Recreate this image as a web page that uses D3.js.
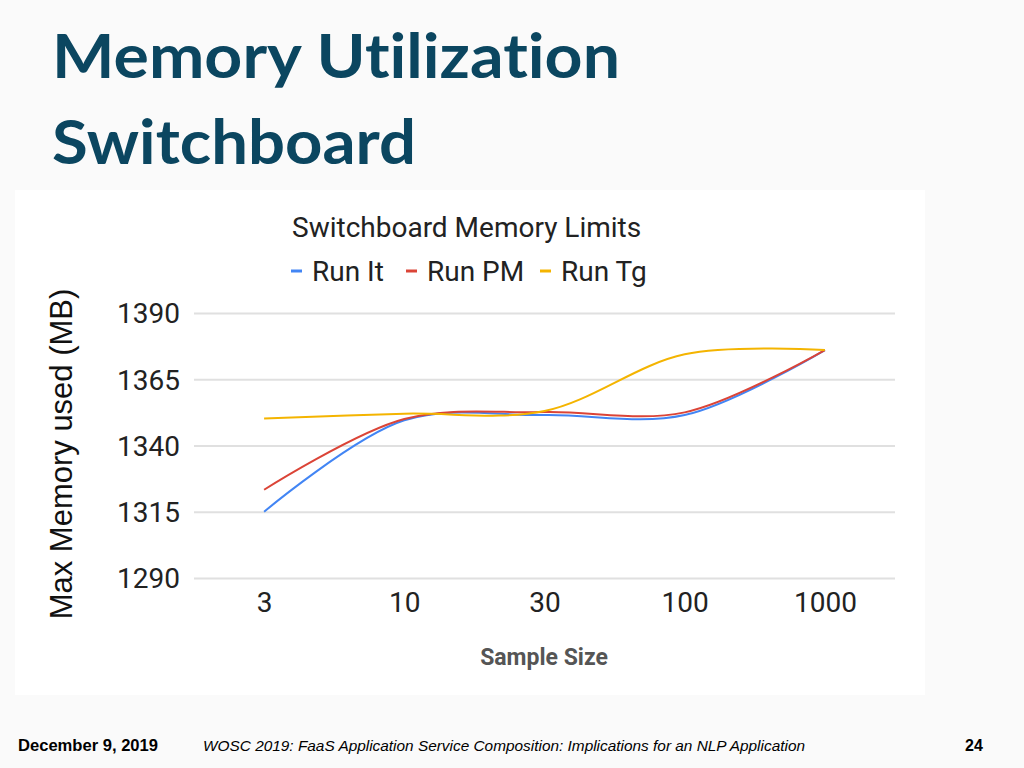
<html lang="en">
<head>
  <meta charset="UTF-8"/>
  <title>Memory Utilization Switchboard</title>
  <script src="https://d3js.org/d3.v7.min.js"></script>
</head>
<style>
body {
  margin: 0;
  background-color: #fafafa;
}

svg {
  display: block;
}

.grid line {
  stroke: #e0e0e0;
  stroke-width: 2;
}

.grid path {
  stroke-width: 0;
}

.tick text {
  font-family: Roboto, sans-serif;
  font-size: 28px;
  fill: #222;
}

.series {
  fill: none;
  stroke-width: 2;
}
</style>
<body>
<svg width="1024" height="768"></svg>
<script>
    const categories = ['3', '10', '30', '100', '1000'];
    const yTicks = [1290, 1315, 1340, 1365, 1390];

    const runIt = [1315, 1349.5, 1351.5, 1351.5, 1376];
    const runPM = [1323.3, 1350, 1352.6, 1352.5, 1376];
    const runTg = [1350.2, 1352, 1353, 1374.4, 1376];

    const seriesNames = ['Run It', 'Run PM', 'Run Tg'];
    const seriesColors = ['#4285f4', '#db4437', '#f4b400'];
    const seriesValues = [runIt, runPM, runTg];

    const svg = d3.select('svg');

    // slide title
    const title = svg.append('text')
      .attr('font-family', 'Lato, sans-serif')
      .attr('font-weight', 700)
      .attr('font-size', 62)
      .attr('fill', '#0b4660')
      .style('font-variant-ligatures', 'none');
    title.append('tspan')
      .attr('x', 52).attr('y', 78)
      .attr('textLength', 568).attr('lengthAdjust', 'spacingAndGlyphs')
      .text('Memory Utilization');
    title.append('tspan')
      .attr('x', 52).attr('y', 164)
      .attr('textLength', 364).attr('lengthAdjust', 'spacingAndGlyphs')
      .text('Switchboard');

    // chart card
    svg.append('rect')
      .attr('x', 15).attr('y', 190)
      .attr('width', 910).attr('height', 505)
      .attr('fill', '#fff');

    const xScale = d3.scalePoint()
      .domain(categories)
      .range([194, 895])
      .padding(0.5);

    const yScale = d3.scaleLinear()
      .domain([1290, 1390])
      .range([578, 313]);

    svg.append('g')
      .attr('class', 'grid')
      .attr('transform', 'translate(194, 0)')
      .call(d3.axisLeft(yScale)
        .tickValues(yTicks)
        .tickSize(-701)
        .tickFormat(''));

    const yAxis = svg.append('g')
      .attr('transform', 'translate(194, 0)')
      .call(d3.axisLeft(yScale).tickValues(yTicks).tickSize(0).tickPadding(14).tickFormat(d3.format('d')));
    yAxis.select('.domain').remove();
    yAxis.selectAll('text').attr('dy', '0.35em');

    const xAxis = svg.append('g')
      .attr('transform', 'translate(0, 578)')
      .call(d3.axisBottom(xScale).tickSize(0).tickPadding(14));
    xAxis.select('.domain').remove();

    const line = d3.line()
      .x((d, i) => xScale(categories[i]))
      .y((d) => yScale(d))
      .curve(d3.curveCatmullRom.alpha(0.5));

    svg.selectAll('.series')
      .data(seriesValues)
      .enter()
      .append('path')
      .attr('class', 'series')
      .attr('stroke', (d, i) => seriesColors[i])
      .attr('d', line);

    // chart title
    svg.append('text')
      .attr('x', 292).attr('y', 237)
      .attr('font-family', 'Roboto, sans-serif')
      .attr('font-size', 28)
      .attr('fill', '#222')
      .text('Switchboard Memory Limits');

    // legend
    const legendX = [291, 406, 540];
    const legend = svg.selectAll('.legend')
      .data(seriesNames)
      .enter()
      .append('g')
      .attr('class', 'legend')
      .attr('transform', (d, i) => `translate(${legendX[i]}, 271)`);
    legend.append('line')
      .attr('x1', 0).attr('x2', 11)
      .attr('stroke', (d, i) => seriesColors[i])
      .attr('stroke-width', 3);
    legend.append('text')
      .attr('x', 21).attr('y', 10)
      .attr('font-family', 'Roboto, sans-serif')
      .attr('font-size', 28)
      .attr('fill', '#222')
      .text((d) => d);

    // axis titles
    svg.append('text')
      .attr('transform', 'translate(72, 454) rotate(-90)')
      .attr('text-anchor', 'middle')
      .attr('font-family', 'Liberation Sans, Arial, sans-serif')
      .attr('font-size', 31)
      .attr('fill', '#111')
      .text('Max Memory used (MB)');

    svg.append('text')
      .attr('x', 544).attr('y', 665)
      .attr('text-anchor', 'middle')
      .attr('font-family', 'Roboto, sans-serif')
      .attr('font-weight', 700)
      .attr('font-size', 23)
      .attr('fill', '#555')
      .text('Sample Size');

    // footer
    svg.append('text')
      .attr('x', 18).attr('y', 751)
      .attr('font-family', 'Liberation Sans, Arial, sans-serif')
      .attr('font-weight', 700)
      .attr('font-size', 16)
      .attr('textLength', 140).attr('lengthAdjust', 'spacingAndGlyphs')
      .text('December 9, 2019');

    svg.append('text')
      .attr('x', 203).attr('y', 751)
      .attr('font-family', 'Liberation Sans, Arial, sans-serif')
      .attr('font-style', 'italic')
      .attr('font-size', 15)
      .attr('textLength', 602).attr('lengthAdjust', 'spacingAndGlyphs')
      .text('WOSC 2019: FaaS Application Service Composition: Implications for an NLP Application');

    svg.append('text')
      .attr('x', 965).attr('y', 751)
      .attr('font-family', 'Liberation Sans, Arial, sans-serif')
      .attr('font-weight', 700)
      .attr('font-size', 16)
      .text('24');
</script>
</body>
</html>
